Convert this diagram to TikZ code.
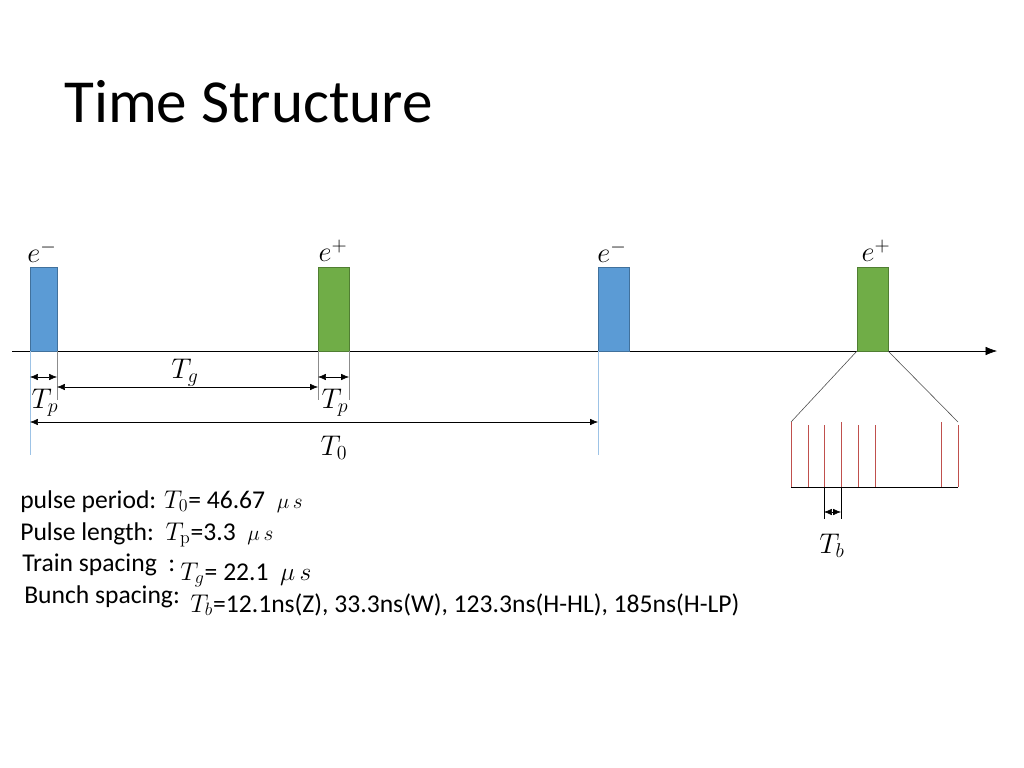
\documentclass[tikz,border=0pt]{standalone}
\usepackage{fix-cm}
\usepackage[no-math]{fontspec}
\setmainfont{Carlito}
\usepackage{tikz}
\usetikzlibrary{arrows.meta}
\usetikzlibrary{positioning}
\definecolor{pulseblue}{HTML}{5B9BD5}
\definecolor{pulsebluedark}{HTML}{41719C}
\definecolor{pulsegreen}{HTML}{70AD47}
\definecolor{pulsegreendark}{HTML}{507E32}
\definecolor{extblue}{HTML}{9DC3E6}
\definecolor{bunchred}{HTML}{C0504D}
\tikzstyle{bluepulse}=[draw=pulsebluedark,fill=pulseblue]
\tikzstyle{greenpulse}=[draw=pulsegreendark,fill=pulsegreen]
\tikzstyle{dim}=[draw,{Latex[length=5.5pt,width=4.5pt]}-{Latex[length=5.5pt,width=4.5pt]}]
\tikzstyle{blueext}=[draw=extblue]
\tikzstyle{grayext}=[draw=black!45]
\tikzstyle{bunch}=[draw=bunchred]
\tikzstyle{particle}=[font=\fontsize{20}{24}\selectfont,inner sep=0pt]
\tikzstyle{dimlabel}=[font=\fontsize{20}{24}\selectfont,inner sep=0pt]
\tikzstyle{txt}=[anchor=base west,inner sep=0pt,font=\fontsize{18}{21}\selectfont]

\begin{document}
\begin{tikzpicture}[x=0.703125pt,y=-0.703125pt]
    \useasboundingbox[fill=white] (0,0) rectangle (1024,768);

    \node[anchor=base west,inner sep=0pt,font=\fontsize{43}{50}\selectfont] (title) at (64,123) {Time Structure};

    % time axis
    \coordinate (axstart) at (12,351);
    \coordinate (axend) at (997,351);
    \draw[-{Latex[length=8pt,width=6pt]}] (axstart) -- (axend);

    % the four pulses
    \foreach \xl/\xr/\name/\kind in {30/57/A/bluepulse, 318/349/B/greenpulse, 598/629/C/bluepulse, 857/888/D/greenpulse}
    {
        \draw[\kind] (\xl,267) rectangle (\xr,351);
        \coordinate (\name l) at (\xl,351);
        \coordinate (\name r) at (\xr,351);
    }

    \foreach \pos/\name/\lbl in {{(42,252)/eA/e^-}, {(333,251)/eB/e^+}, {(612,252)/eC/e^-}, {(876,251)/eD/e^+}}
        \node[particle] (\name) at \pos {$\lbl$};

    % extension lines
    \coordinate (ylong) at (0,455);
    \coordinate (yshort) at (0,400);
    \draw[blueext] (Al) -- (Al |- ylong);
    \draw[blueext] (Cl) -- (Cl |- ylong);
    \foreach \name in {Ar, Bl, Br}
        \draw[grayext] (\name) -- (\name |- yshort);

    % dimensions
    \coordinate (yTp) at (0,377);
    \coordinate (yTg) at (0,387);
    \coordinate (yT0) at (0,422);
    \draw[dim] (Al |- yTp) -- (Ar |- yTp);
    \draw[dim] (Bl |- yTp) -- (Br |- yTp);
    \draw[dim] (Ar |- yTg) -- (Bl |- yTg);
    \draw[dim] (Al |- yT0) -- (Cl |- yT0);

    \foreach \pos/\name/\lbl in {{(185,373)/Tg/T_g}, {(45,403)/TpA/T_p}, {(335,403)/TpB/T_p}, {(334,448)/Tzero/T_0}, {(832,546)/Tb/T_b}}
        \node[dimlabel] (\name) at \pos {$\lbl$};

    % zoom into one pulse
    \coordinate (zl) at (791,422);
    \coordinate (zr) at (958,422);
    \coordinate (zbl) at (791,487);
    \coordinate (zbr) at (958,487);
    \draw[black!70] (Dl) -- (zl);
    \draw[black!70] (Dr) -- (zr);
    \foreach \x/\top in {791/422, 808/425, 824/425, 841/422, 858/425, 875/425, 941/422, 958/425}
        \draw[bunch] (\x,\top) -- (\x,487);
    \draw (zbl) -- (zbr);

    \coordinate (bA) at (824,487);
    \coordinate (bB) at (841,487);
    \coordinate (yTb) at (0,512);
    \coordinate (yTbend) at (0,519);
    \draw (bA) -- (bA |- yTbend);
    \draw (bB) -- (bB |- yTbend);
    \draw[dim] (bA |- yTb) -- (bB |- yTb);

    % parameters
    \node[txt] (period) at (20,508) {pulse period: $T_0$= 46.67 \ {\fontsize{15}{18}\selectfont$\mu\,s$}};
    \node[txt] (length) at (20,540) {Pulse length:\ \ $T_\mathrm{p}$=3.3 \ {\fontsize{15}{18}\selectfont$\mu\,s$}};
    \node[txt] (train) at (22,571) {Train spacing \ :};
    \node[txt] (traineq) at (180,580) {$T_g$= 22.1 \ $\mu\,s$};
    \node[txt] (bunchsp) at (24,603) {Bunch spacing:};
    \node[txt] (bunchval) at (190,612) {$T_b$=12.1ns(Z), 33.3ns(W), 123.3ns(H-HL), 185ns(H-LP)};
\end{tikzpicture}
\end{document}
